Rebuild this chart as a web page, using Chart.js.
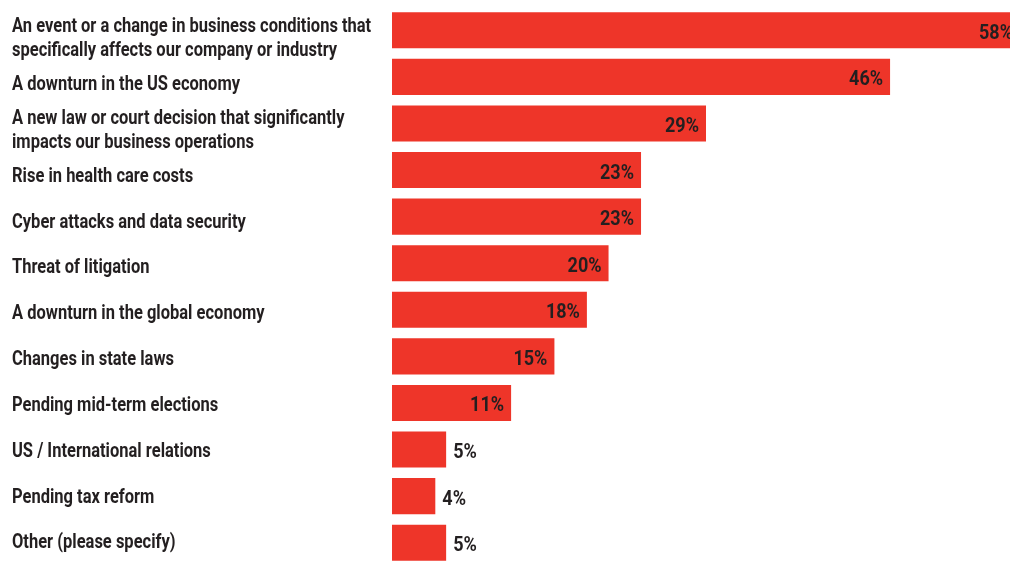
<!DOCTYPE html>
<html>
<head>
<meta charset="utf-8">
<script src="https://cdn.jsdelivr.net/npm/chart.js@4/dist/chart.umd.min.js"></script>
<style>
  html, body { margin: 0; padding: 0; background: #fff; overflow: hidden; }
  #wrap { width: 1020px; height: 566px; position: relative; }
</style>
</head>
<body>
<div id="wrap"><canvas id="myChart"></canvas></div>
<script>
const categories = [
  ['An event or a change in business conditions that', 'specifically affects our company or industry'],
  'A downturn in the US economy',
  ['A new law or court decision that significantly', 'impacts our business operations'],
  'Rise in health care costs',
  'Cyber attacks and data security',
  'Threat of litigation',
  'A downturn in the global economy',
  'Changes in state laws',
  'Pending mid-term elections',
  'US / International relations',
  'Pending tax reform',
  'Other (please specify)'
];
const values = [58, 46, 29, 23, 23, 20, 18, 15, 11, 5, 4, 5];

const fontFamily = 'Roboto, "Liberation Sans", sans-serif';
const barColor = '#ee3529';
const textColor = '#231f20';

// the original uses a bold condensed face, so squeeze the text sideways
function squeezed(ctx, txt, x, y, sx) {
  ctx.save();
  ctx.translate(x, y);
  ctx.scale(sx, 1);
  ctx.fillText(txt, 0, 0);
  ctx.restore();
}

const textLabels = {
  id: 'textLabels',
  afterDatasetsDraw(chart) {
    const ctx = chart.ctx;
    const meta = chart.getDatasetMeta(0);
    const yScale = chart.scales.y;
    ctx.save();
    ctx.fillStyle = textColor;
    ctx.textBaseline = 'alphabetic';

    // category labels
    ctx.font = 'bold 20px ' + fontFamily;
    ctx.textAlign = 'left';
    const catSx = 228 / ctx.measureText('A downturn in the US economy').width;
    categories.forEach((lab, i) => {
      const cy = yScale.getPixelForValue(i) + 6.7 - 0.75 * i;
      const lines = Array.isArray(lab) ? lab : [lab];
      const lh = 24;
      const y0 = cy - (lines.length - 1) * lh / 2;
      lines.forEach((ln, k) => {
        squeezed(ctx, ln, yScale.left, y0 + k * lh + 7.2, catSx);
      });
    });

    // value labels: inside the bar end for big bars, just outside for small ones
    ctx.font = 'bold 21px ' + fontFamily;
    const valSx = 34 / ctx.measureText('46%').width;
    meta.data.forEach((bar, i) => {
      const v = values[i];
      const txt = v + '%';
      const y = bar.y + 1 + 7.5;
      if (v >= 10) {
        ctx.textAlign = 'right';
        squeezed(ctx, txt, bar.x - 7, y, valSx);
      } else {
        ctx.textAlign = 'left';
        squeezed(ctx, txt, bar.x + 7, y, valSx);
      }
    });
    ctx.restore();
  }
};

const ctx = document.getElementById('myChart').getContext('2d');
new Chart(ctx, {
  type: 'bar',
  data: {
    labels: categories,
    datasets: [{
      data: values,
      backgroundColor: barColor,
      borderWidth: 0,
      barPercentage: 0.773,
      categoryPercentage: 1
    }]
  },
  options: {
    indexAxis: 'y',
    responsive: true,
    maintainAspectRatio: false,
    animation: false,
    layout: { padding: { left: 12, top: 7, right: 0, bottom: 0 } },
    plugins: {
      legend: { display: false },
      tooltip: { enabled: false }
    },
    scales: {
      x: {
        display: false,
        min: 0,
        max: 58
      },
      y: {
        grid: { display: false },
        border: { display: false },
        ticks: { display: false },
        afterFit(scale) { scale.width = 380; }
      }
    }
  },
  plugins: [textLabels]
});
</script>
</body>
</html>
